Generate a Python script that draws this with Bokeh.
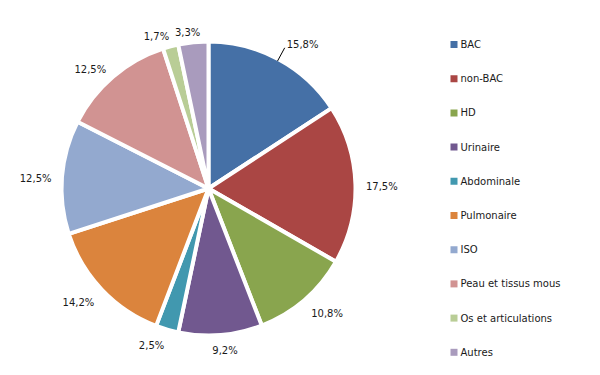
import numpy as np
from bokeh.plotting import figure
from bokeh.models import Range1d, ColumnDataSource
from bokeh.core.properties import value
from bokeh.embed import file_html
from bokeh.resources import INLINE

categories = ["BAC", "non-BAC", "HD", "Urinaire", "Abdominale", "Pulmonaire",
              "ISO", "Peau et tissus  mous", "Os et articulations", "Autres"]
values = [15.8, 17.5, 10.8, 9.2, 2.5, 14.2, 12.5, 12.5, 1.7, 3.3]
labels = ["15,8%", "17,5%", "10,8%", "9,2%", "2,5%", "14,2%", "12,5%", "12,5%", "1,7%", "3,3%"]
colors = ["#4570A6", "#AA4644", "#89A54E", "#71588F", "#4198AF", "#DB843D",
          "#93A9CF", "#D19392", "#B9CD96", "#A99BBD"]
leader_items = ["BAC"]

W, H = 584, 359
p = figure(width=W, height=H, output_backend="svg", toolbar_location=None,
           x_range=Range1d(0, W), y_range=Range1d(375 - H, 375),
           min_border=0)
p.axis.visible = False
p.grid.visible = False
p.outline_line_color = None
p.background_fill_color = "white"

cx, cy, R = 208, 187, 145
vals = np.array(values)
frac = vals / vals.sum()
cum_after = np.cumsum(frac)
cum_before = cum_after - frac
start = np.pi / 2 - 2 * np.pi * cum_before
end = np.pi / 2 - 2 * np.pi * cum_after

src = ColumnDataSource(dict(start=start, end=end, color=colors))
p.wedge(x=cx, y=cy, radius=R + 2, start_angle="start", end_angle="end",
        direction="clock", fill_color="color", line_color="white",
        line_width=4, source=src)

# labels (positioned from each slice's mid-angle)
mid = 2 * np.pi * (cum_before + frac / 2)  # clockwise from top
s, c = np.sin(mid), np.cos(mid)           # c>0 -> up
ndig = np.array([sum(ch.isdigit() for ch in t) for t in labels])
hw = (6.36 * ndig + 3.18 + 9.5) / 2
g, hv, dn, k = 12.5, 2.6, 2.9, 3.5
px = cx + (R + g) * s
py = cy + (R + g) * c
lx = px + hw * np.clip(k * s, -1, 1)
ly = py + hv * np.clip(k * c, -1, 1) - dn
align = ["center"] * len(labels)
for i, cat in enumerate(categories):
    if cat in leader_items:
        x0, y0 = cx + R * s[i], cy + R * c[i]
        x1, y1 = cx + (R + 15) * s[i], cy + (R + 15) * c[i]
        p.segment(x0=[x0], y0=[y0], x1=[x1], y1=[y1], line_color="#000000", line_width=1)
        lx[i] = x1 + 2
        ly[i] = y1 + 3
        align[i] = "left"

p.text(x=list(lx), y=list(ly), text=labels, text_align=align, text_baseline="middle",
       text_font=value("DejaVu Sans"), text_font_size="10px", text_color="#1a1a1a")

# legend
leg_x, leg_top, leg_step, sq = 450, 375 - 44, 34.2, 7
ly_leg = [leg_top - i * leg_step for i in range(len(categories))]
p.rect(x=[leg_x + sq / 2] * len(categories), y=ly_leg, width=sq, height=sq,
       fill_color=colors, line_color=None)
p.text(x=[leg_x + sq + 3] * len(categories), y=ly_leg, text=categories,
       text_align="left", text_baseline="middle",
       text_font=value("DejaVu Sans"), text_font_size="10px", text_color="#1a1a1a")

open("out.html", "w").write(file_html(p, INLINE))
